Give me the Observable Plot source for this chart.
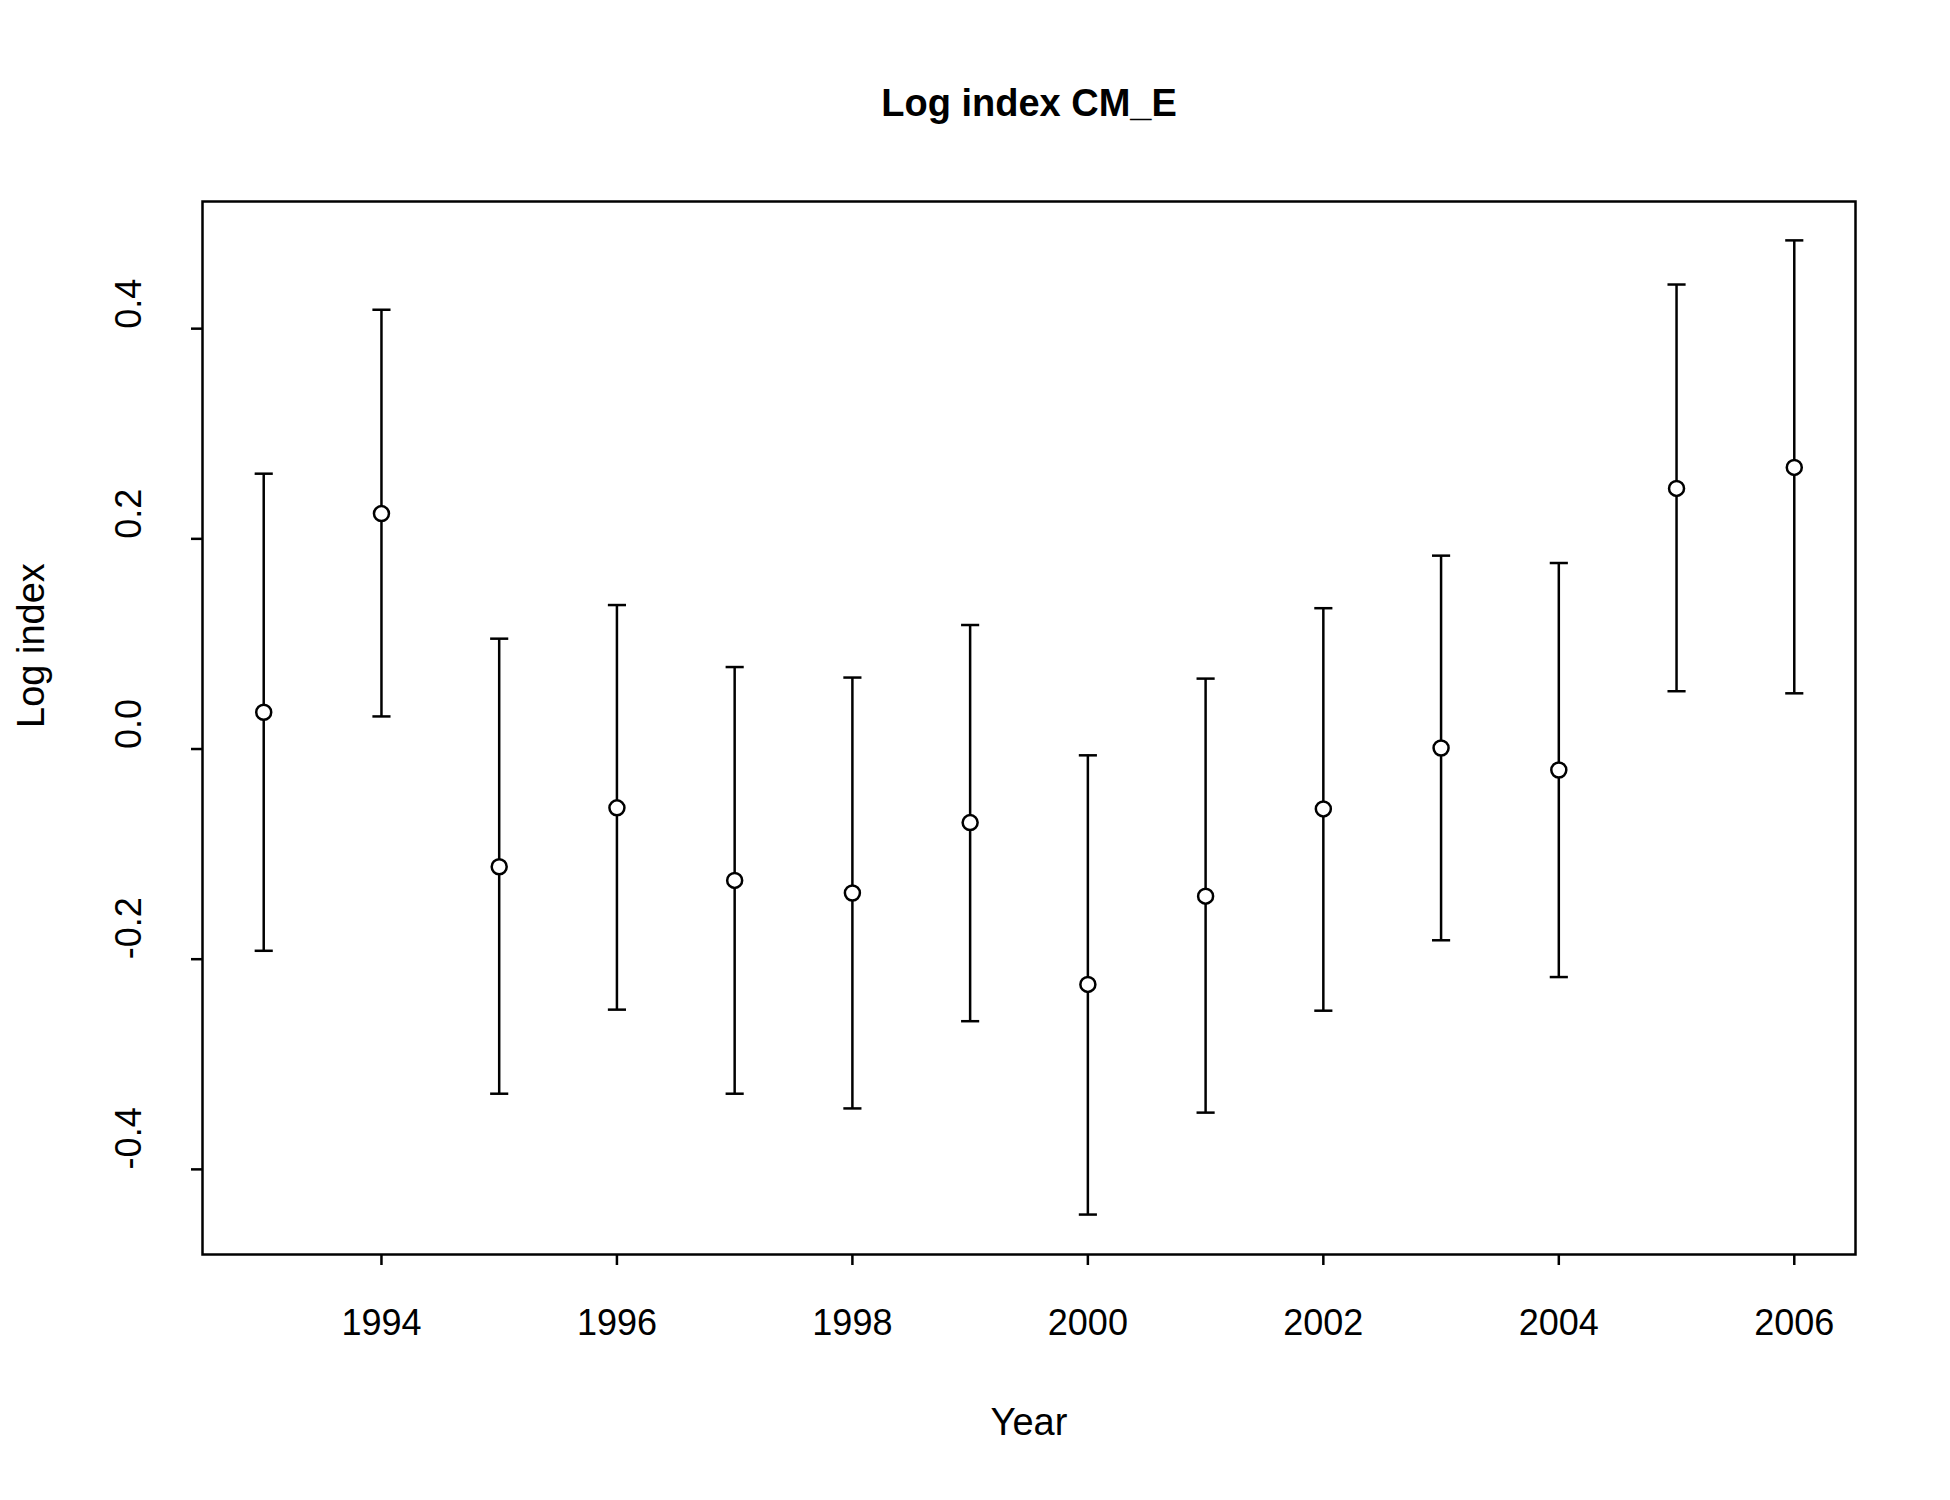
<!DOCTYPE html>
<html>
<head>
<meta charset="utf-8">
<script src="https://cdn.jsdelivr.net/npm/d3@7"></script>
<script src="https://cdn.jsdelivr.net/npm/@observablehq/plot@0.6"></script>
<style>
  body { margin: 0; background: #fff; }
  #chart { width: 1950px; height: 1500px; }
</style>
</head>
<body>
<div id="chart"></div>
<script>
// values
var years = [1993, 1994, 1995, 1996, 1997, 1998, 1999, 2000, 2001, 2002, 2003, 2004, 2005, 2006];
var logIndex = [0.035, 0.224, -0.112, -0.056, -0.125, -0.137, -0.070, -0.224, -0.140, -0.057, 0.001, -0.020, 0.248, 0.268];
var lower = [-0.192, 0.031, -0.328, -0.248, -0.328, -0.342, -0.259, -0.443, -0.346, -0.249, -0.182, -0.217, 0.055, 0.053];
var upper = [0.262, 0.418, 0.105, 0.137, 0.078, 0.068, 0.118, -0.006, 0.067, 0.134, 0.184, 0.177, 0.442, 0.484];
var xTicks = [1994, 1996, 1998, 2000, 2002, 2004, 2006];
var yTicks = [-0.4, -0.2, 0.0, 0.2, 0.4];

var data = years.map(function (y, i) {
  return { year: y, value: logIndex[i], lo: lower[i], hi: upper[i] };
});
var cap = 0.077;
var font = "Liberation Sans, Arial, sans-serif";
// R style labels: plain hyphen for minus
function fmtY(d) { return d.toFixed(1).replace("\u2212", "-"); }

var plot = Plot.plot({
  width: 1950,
  height: 1500,
  marginLeft: 202,
  marginRight: 95,
  marginTop: 201,
  marginBottom: 246,
  style: { fontFamily: font, fontSize: "30px", color: "#000", background: "#fff" },
  x: { domain: [1992.48, 2006.52] },
  y: { domain: [-0.481, 0.521] },
  marks: [
    Plot.frame({ stroke: "#000", strokeWidth: 2.5 }),
    Plot.axisX(xTicks, { tickSize: 11, tickPadding: 44, strokeWidth: 2.5, fontSize: 36, label: null, tickFormat: d3.format("d") }),
    Plot.axisY(yTicks, { tickSize: 11, strokeWidth: 2.5, tickFormat: function () { return ""; }, label: null }),
    Plot.text(yTicks, { y: function (d) { return d; }, text: fmtY, frameAnchor: "left", dx: -73, rotate: -90, fontSize: 36 }),
    Plot.ruleX(data, { x: "year", y1: "lo", y2: "hi", stroke: "#000", strokeWidth: 2.5 }),
    Plot.link(data, { x1: function (d) { return d.year - cap; }, x2: function (d) { return d.year + cap; }, y1: "lo", y2: "lo", stroke: "#000", strokeWidth: 2.5 }),
    Plot.link(data, { x1: function (d) { return d.year - cap; }, x2: function (d) { return d.year + cap; }, y1: "hi", y2: "hi", stroke: "#000", strokeWidth: 2.5 }),
    Plot.dot(data, { x: "year", y: "value", r: 7.5, fill: "#fff", stroke: "#000", strokeWidth: 2.5 }),
    Plot.text(["Log index CM_E"], { frameAnchor: "top", dy: -112, fontSize: 38, fontWeight: "bold" }),
    Plot.text(["Year"], { frameAnchor: "bottom", dy: 180, fontSize: 38 }),
    Plot.text(["Log index"], { frameAnchor: "left", dx: -171, rotate: -90, fontSize: 38 })
  ]
});
document.getElementById("chart").appendChild(plot);
</script>
</body>
</html>
